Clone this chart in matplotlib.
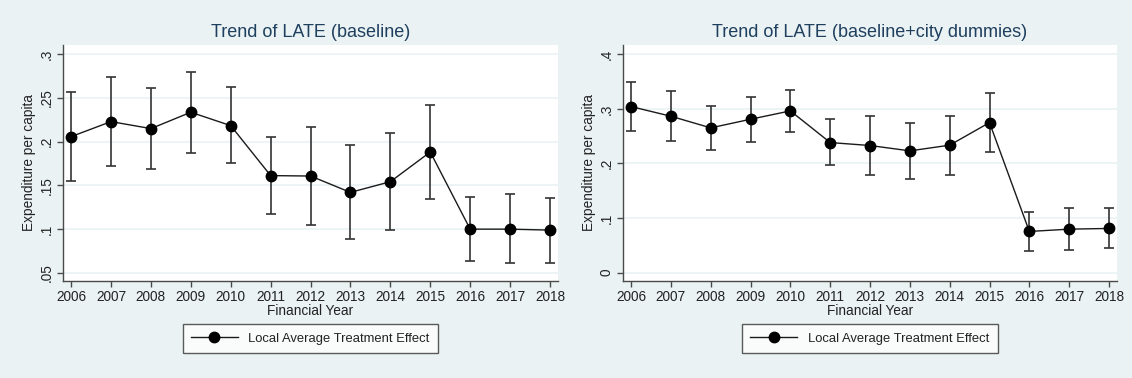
import numpy as np
import matplotlib
matplotlib.use("Agg")
import matplotlib.pyplot as plt

plt.rcParams['font.family'] = ['Liberation Sans', 'DejaVu Sans']

years = list(range(2006, 2019))

# baseline
late_base = [0.2057, 0.2229, 0.2149, 0.2336, 0.2183, 0.1611, 0.1606, 0.1419, 0.1541, 0.1881, 0.0998, 0.0998, 0.0987]
hi_base = [0.2565, 0.2744, 0.2611, 0.2801, 0.2622, 0.2050, 0.2167, 0.1961, 0.2102, 0.2416, 0.1361, 0.1396, 0.1357]
lo_base = [0.1550, 0.1722, 0.1688, 0.1874, 0.1753, 0.1176, 0.1044, 0.0884, 0.0987, 0.1342, 0.0628, 0.0605, 0.0612]

# baseline + city dummies
late_city = [0.3042, 0.2865, 0.2652, 0.2810, 0.2963, 0.2383, 0.2329, 0.2231, 0.2335, 0.2749, 0.0755, 0.0797, 0.0810]
hi_city = [0.3494, 0.3323, 0.3048, 0.3219, 0.3353, 0.2810, 0.2871, 0.2749, 0.2877, 0.3286, 0.1109, 0.1182, 0.1176]
lo_city = [0.2603, 0.2420, 0.2249, 0.2402, 0.2573, 0.1969, 0.1791, 0.1712, 0.1798, 0.2212, 0.0395, 0.0407, 0.0444]

titles = ["Trend of LATE (baseline)", "Trend of LATE (baseline+city dummies)"]
yticks_base = [0.05, 0.1, 0.15, 0.2, 0.25, 0.3]
ytick_labels_base = [".05", ".1", ".15", ".2", ".25", ".3"]
yticks_city = [0, 0.1, 0.2, 0.3, 0.4]
ytick_labels_city = ["0", ".1", ".2", ".3", ".4"]

bg = '#EAF2F3'
navy = '#1E3F5E'
axcol = '#4a4a4a'

fig = plt.figure(figsize=(11.32, 3.78), dpi=100, facecolor=bg)
ax1 = fig.add_axes([0.0554, 0.2574, 0.4375, 0.6236])
ax2 = fig.add_axes([0.5501, 0.2574, 0.4366, 0.6236])

panels = [
    (ax1, late_base, lo_base, hi_base, yticks_base, ytick_labels_base, (0.0408, 0.3106)),
    (ax2, late_city, lo_city, hi_city, yticks_city, ytick_labels_city, (-0.0147, 0.417)),
]

for i, (ax, est, lo, hi, yt, ytl, ylim) in enumerate(panels):
    ax.set_facecolor('white')
    est = np.array(est)
    err = [est - np.array(lo), np.array(hi) - est]
    ax.errorbar(years, est, yerr=err, fmt='none', ecolor='#333333', elinewidth=1.2,
                capsize=3.5, capthick=1.2, zorder=2)
    ax.plot(years, est, color='#1a1a1a', lw=1.0, marker='o', markersize=7.5,
            markerfacecolor='black', markeredgecolor='black', zorder=3,
            label='Local Average Treatment Effect')
    ax.set_xlim(2005.79, 2018.2)
    ax.set_ylim(*ylim)
    ax.set_xticks(years)
    ax.set_xticklabels([str(y) for y in years], fontsize=9.8, color='#222222')
    ax.set_yticks(yt)
    ax.set_yticklabels(ytl, fontsize=9.8, rotation=90, va='center', color='#222222')
    ax.grid(axis='y', color=bg, lw=1.2)
    ax.set_axisbelow(True)
    for s in ['top', 'right']:
        ax.spines[s].set_visible(False)
    for s in ['left', 'bottom']:
        ax.spines[s].set_color(axcol)
        ax.spines[s].set_linewidth(1.0)
    ax.tick_params(axis='both', color=axcol, length=4.5, width=1.0, pad=2)
    ax.set_title(titles[i], fontsize=13, color=navy, pad=6)
    ax.set_xlabel('Financial Year', fontsize=9.8, labelpad=0.5, color='#222222')
    ax.set_ylabel('Expenditure per capita', fontsize=9.8, labelpad=3, color='#222222')
    leg = ax.legend(loc='upper center', bbox_to_anchor=(0.5, -0.184), fontsize=9.4,
                    frameon=True, fancybox=False, handlelength=3.6, borderpad=0.65,
                    handletextpad=0.8, borderaxespad=0)
    leg.get_frame().set_edgecolor('#333333')
    leg.get_frame().set_linewidth(1.0)
    for t in leg.get_texts():
        t.set_color('#222222')

fig.savefig('out.png', dpi=100, facecolor=bg)
